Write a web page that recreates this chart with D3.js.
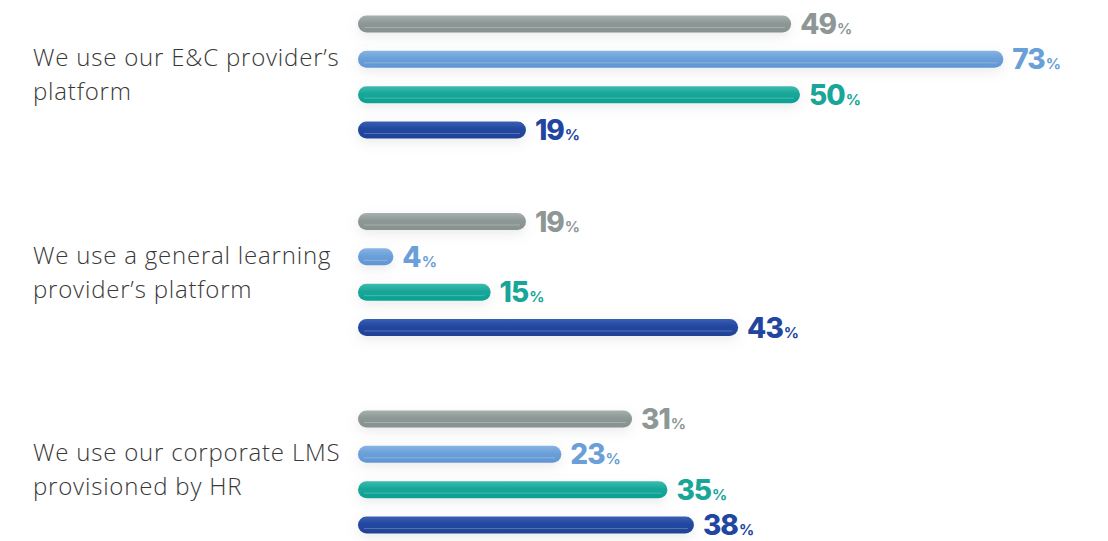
<!DOCTYPE html>
<html>
<head>
<meta charset="utf-8">
<script src="https://cdn.jsdelivr.net/npm/d3@7/dist/d3.min.js"></script>
<style>
  html, body { margin: 0; padding: 0; background: #ffffff; }
  svg { display: block; }
</style>
</head>
<body>
<svg id="chart" width="1108" height="541"></svg>
<script>
// Survey answers: which platform is used to deliver training
const categories = [
  ["We use our E&C provider\u2019s", "platform"],
  ["We use a general learning", "provider\u2019s platform"],
  ["We use our corporate LMS", "provisioned by HR"]
];
const seriesNames = ["s1", "s2", "s3", "s4"];
const seriesColors = ["#8d9896", "#6a9fd8", "#17a698", "#22469f"];
const seriesLight  = ["#a6b0ae", "#86b4e4", "#3dbcb0", "#3a5fb3"];
const seriesDark   = ["#87918f", "#6196d3", "#0aa192", "#1f4399"];
// values per category, one array per series
const s1Values = [49, 19, 31];
const s2Values = [73, 4, 23];
const s3Values = [50, 15, 35];
const s4Values = [19, 43, 38];
const seriesValues = [s1Values, s2Values, s3Values, s4Values];

const svg = d3.select("#chart");

const x = d3.scaleLinear().domain([0, 100]).range([358, 1242]);
const yGroup = d3.scalePoint().domain(d3.range(categories.length)).range([77, 472]);
const yInner = d3.scalePoint().domain(seriesNames).range([-53, 53]);
const barH = 17;

const defs = svg.append("defs");
const shadow = defs.append("filter").attr("id", "soft")
  .attr("x", "-20%").attr("y", "-150%").attr("width", "140%").attr("height", "400%");
shadow.append("feDropShadow").attr("dx", 0).attr("dy", 4).attr("stdDeviation", 6)
  .attr("flood-color", "#7a8280").attr("flood-opacity", 0.16);

seriesNames.forEach((s, i) => {
  const g = defs.append("linearGradient").attr("id", "grad-" + s)
    .attr("x1", 0).attr("y1", 0).attr("x2", 0).attr("y2", 1);
  g.append("stop").attr("offset", "0%").attr("stop-color", seriesLight[i]);
  g.append("stop").attr("offset", "45%").attr("stop-color", seriesColors[i]);
  g.append("stop").attr("offset", "100%").attr("stop-color", seriesDark[i]);
});

const rows = [];
categories.forEach((c, ci) => {
  seriesNames.forEach((s, si) => {
    rows.push({ ci, si, s, v: seriesValues[si][ci] });
  });
});

const bars = svg.append("g").selectAll("g.bar").data(rows).join("g").attr("class", "bar")
  .attr("transform", d => `translate(0,${yGroup(d.ci) + yInner(d.s)})`);

bars.append("rect")
  .attr("x", x(0))
  .attr("y", -barH / 2)
  .attr("width", d => x(d.v) - x(0))
  .attr("height", barH)
  .attr("rx", barH / 2)
  .attr("fill", d => `url(#grad-${d.s})`)
  .attr("filter", "url(#soft)");

// thin highlight line along the lower part of each bar
bars.append("line")
  .attr("x1", d => x(0) + 6)
  .attr("x2", d => Math.max(x(0) + 6, x(d.v) - 6))
  .attr("y1", 3.5).attr("y2", 3.5)
  .attr("stroke", "#ffffff").attr("stroke-opacity", 0.3).attr("stroke-width", 0.8);

const lab = bars.append("text")
  .attr("x", d => x(d.v) + 9)
  .attr("y", 10)
  .attr("fill", d => seriesColors[d.si])
  .style("font-family", "Inter, Lato, sans-serif")
  .style("font-weight", 800);
lab.append("tspan").style("font-size", "28px").attr("letter-spacing", "-1").text(d => d.v);
lab.append("tspan").style("font-size", "15px").style("font-weight", 700).attr("dx", 1).text("%");

// category labels
const cat = svg.append("g").selectAll("text").data(categories).join("text")
  .attr("x", 33)
  .attr("y", (d, i) => yGroup(i) - 11)
  .attr("fill", "#383838")
  .style("font-family", "'Open Sans', Lato, sans-serif")
  .style("font-weight", 300)
  .style("font-size", "24px")
  .attr("letter-spacing", "0.8");
cat.selectAll("tspan").data(d => d).join("tspan")
  .attr("x", 33)
  .attr("dy", (d, i) => i === 0 ? 0 : 34)
  .text(d => d);
</script>
</body>
</html>
